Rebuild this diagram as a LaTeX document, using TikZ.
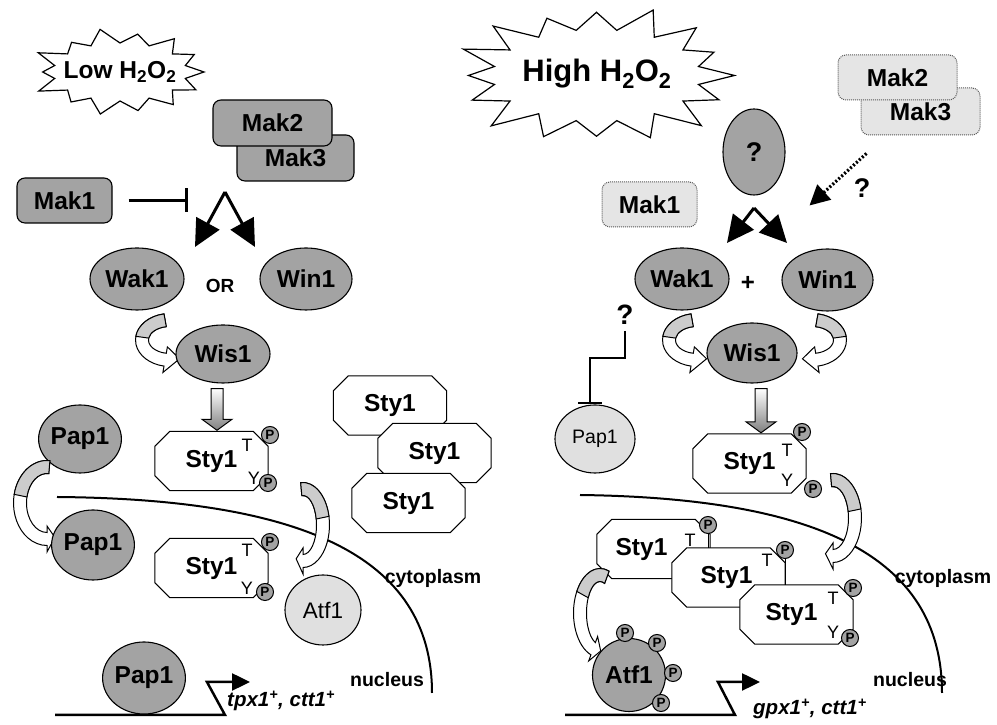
\documentclass[tikz,border=0pt]{standalone}
\usepackage{fontspec}
\setmainfont{Liberation Sans}
\usetikzlibrary{shapes.geometric,arrows.meta,calc}

\definecolor{protgray}{gray}{0.64}
\definecolor{palegray}{gray}{0.88}
\definecolor{ghostgray}{gray}{0.9}
\definecolor{bentgray}{gray}{0.8}

\tikzset{
  lbl/.style={font=\bfseries\fontsize{24.5}{26}\selectfont},
  prot/.style={ellipse, draw, line width=1.1pt, fill=protgray, lbl, inner sep=0pt},
  paleprot/.style={prot, fill=palegray, font=\fontsize{22.5}{24}\selectfont},
  kinbox/.style={rectangle, rounded corners=8pt, draw, line width=1.1pt, fill=protgray, lbl, minimum width=118pt, minimum height=46pt},
  ghostbox/.style={kinbox, fill=ghostgray, draw=black!65, line width=1pt, dash pattern=on 1pt off 1pt},
  stybox/.style={minimum width=113pt, minimum height=59pt, inner sep=0pt},
  octline/.style={draw, fill=white, line width=1pt},
  phos/.style={circle, draw, line width=1pt, fill=protgray, minimum size=17pt, inner sep=0pt, font=\bfseries\fontsize{13.5}{13.5}\selectfont},
  site/.style={font=\fontsize{18}{18}\selectfont, inner sep=0pt},
  burstline/.style={draw, line width=1.2pt, fill=white, line join=miter},
  fork/.style={line width=3pt, -{Triangle[length=27pt,width=26pt]}},
  dotarrow/.style={line width=3.2pt, dash pattern=on 2pt off 2pt, -{Triangle[length=20pt,width=20pt]}},
  inhibit/.style={line width=2.5pt, -{Bar[width=24pt,line width=2.5pt]}},
  membrane/.style={line width=2pt},
  dna/.style={line width=2.5pt, -{Triangle[length=18pt,width=17pt]}},
  gene/.style={font=\bfseries\itshape\fontsize{20.5}{22}\selectfont, anchor=base west, inner sep=0pt},
  compart/.style={font=\bfseries\fontsize{19.5}{21}\selectfont},
  bentline/.style={draw, line width=1pt},
  blockarr/.style={draw, line width=1pt, top color=white, bottom color=black!50},
}

\newcommand\bandw{6.5}
\newcommand\headw{13}
\newcommand\stycut{15}

% star outline: centre, points, outer xr, outer yr, inner xr, inner yr, jitter
\newcommand\burst[7]{%
  \pgfmathtruncatemacro\burstlast{2*#2-1}
  \draw[burstline, shift={(#1)}] (xyz polar cs:angle=0, x radius=#3, y radius=#4)
    \foreach \k in {1,...,\burstlast} {
      -- (xyz polar cs:angle={\k*180/#2},
           x radius={ifthenelse(isodd(\k),#5,#3*(1+0.08*sin(\k*#7)))},
           y radius={ifthenelse(isodd(\k),#6,#4*(1+0.08*sin(\k*#7)))})
    } -- cycle;}

% curved ribbon arrow: centre, start angle, end angle, tip angle, x radius, y radius
\newcommand\bentarrow[6]{%
  \begin{scope}[shift={(#1)}]
    \pgfmathsetmacro\bendmid{#2+0.45*(#3-#2)}
    \draw[bentline, fill=white]
      (xyz polar cs:angle=#2, x radius=#5+\bandw, y radius=#6+\bandw)
      arc[start angle=#2, end angle=#3, x radius=#5+\bandw, y radius=#6+\bandw]
      -- (xyz polar cs:angle=#3, x radius=#5+\headw, y radius=#6+\headw)
      -- (xyz polar cs:angle=#4, x radius=#5, y radius=#6)
      -- (xyz polar cs:angle=#3, x radius=#5-\headw, y radius=#6-\headw)
      -- (xyz polar cs:angle=#3, x radius=#5-\bandw, y radius=#6-\bandw)
      arc[start angle=#3, end angle=#2, x radius=#5-\bandw, y radius=#6-\bandw] -- cycle;
    \draw[bentline, fill=bentgray]
      (xyz polar cs:angle=#2, x radius=#5+\bandw, y radius=#6+\bandw)
      arc[start angle=#2, end angle=\bendmid, x radius=#5+\bandw, y radius=#6+\bandw]
      -- (xyz polar cs:angle=\bendmid, x radius=#5-\bandw, y radius=#6-\bandw)
      arc[start angle=\bendmid, end angle=#2, x radius=#5-\bandw, y radius=#6-\bandw] -- cycle;
  \end{scope}}

% Sty1 octagon: name, position, label shift
\newcommand\styprot[3]{%
  \node[stybox] (#1) at (#2) {};
  \draw[octline] ($(#1.north west)+(\stycut,0)$) -- ($(#1.north east)+(-\stycut,0)$)
    -- ($(#1.north east)+(0,-\stycut)$) -- ($(#1.south east)+(0,\stycut)$)
    -- ($(#1.south east)+(-\stycut,0)$) -- ($(#1.south west)+(\stycut,0)$)
    -- ($(#1.south west)+(0,\stycut)$) -- ($(#1.north west)+(0,-\stycut)$) -- cycle;
  \node[lbl] at ([xshift=#3]#1.center) {Sty1};}

% shaded block arrow: from, to, x offset
\newcommand\downblock[3]{%
  \path[blockarr] let \p1=(#1.south), \p2=([xshift=#3]#2.north) in
    (\x2-6,\y1-5) -- (\x2-6,\y2+12) -- (\x2-15,\y2+12) -- (\x2,\y2+1)
    -- (\x2+15,\y2+12) -- (\x2+6,\y2+12) -- (\x2+6,\y1-5) -- cycle;}

\begin{document}
\begin{tikzpicture}[x=1pt,y=1pt]
\useasboundingbox (0,0) rectangle (997,725);

% ---------------- low H2O2 ----------------
\burst{120,653}{14}{84}{41}{67}{29}{97}
\node[lbl] (lowB) at (120,653) {Low H\textsubscript{2}O\textsubscript{2}};

\node[kinbox, minimum width=117pt] (makLc) at (295.5,567) {Mak3};
\node[kinbox, minimum width=119pt] (makLb) at (272.5,602) {Mak2};
\node[kinbox, minimum width=95pt, minimum height=45pt] (makLa) at (64.5,524.5) {Mak1};
\draw[inhibit] ([xshift=16pt]makLa.east) -- ++(59,0);

\coordinate (forkL) at (225,533);
\draw[fork] (forkL) -- ++(-30,-55);
\draw[fork] (forkL) -- ++(30,-55);

\node[prot, minimum width=94pt, minimum height=62pt] (wakL) at (137,446) {Wak1};
\node[prot, minimum width=92pt, minimum height=62pt] (winL) at (306,446) {Win1};
\node[font=\bfseries\fontsize{19}{20}\selectfont] (orL) at (220,439) {OR};
\bentarrow{170,385}{100}{260}{290}{28}{20}
\node[prot, minimum width=94pt, minimum height=58pt] (wisL) at (223,371) {Wis1};

\styprot{styLa}{211.5,264}{0pt}
\downblock{wisL}{styLa}{5.5pt}
\node[phos] (pLa1) at (270,290) {P};
\node[phos] (pLa2) at (268,242) {P};
\node[site] at (247,280) {T};
\node[site] at (254,247) {Y};

\styprot{styS1}{390,319.5}{0pt}
\styprot{styS2}{434.5,272}{0pt}
\styprot{styS3}{408.5,222}{0pt}

\draw[membrane] (57,228) .. controls (300,226) and (432,170) .. (432,32);
\node[compart] (cytoL) at (433,147) {cytoplasm};
\node[compart] (nucL) at (387,45) {nucleus};

\node[prot, minimum width=80pt, minimum height=68pt] (papLa) at (80,286) {Pap1};
\bentarrow{47,222}{85}{270}{287}{27}{36}
\node[prot, minimum width=80pt, minimum height=70pt] (papLb) at (93,180) {Pap1};

\styprot{styLb}{211.5,157}{0pt}
\node[phos] (pLb1) at (270,183) {P};
\node[phos] (pLb2) at (265,133) {P};
\node[site] at (247,175) {T};
\node[site] at (247,137) {Y};

\bentarrow{303,200}{95}{-90}{-110}{20}{36}
\node[paleprot, minimum width=76pt, minimum height=70pt] (atfL) at (323,115) {Atf1};

\draw[dna] (55,10) -- (225,10) -- (207,43) -- (250,43);
\node[prot, minimum width=78pt, minimum height=72pt] (papLc) at (144,47) {Pap1};
\node[gene] (geneL) at (227,18) {tpx1\textsuperscript{+}, ctt1\textsuperscript{+}};

% ---------------- high H2O2 ----------------
\burst{596.5,649.5}{16}{138}{66}{104}{46}{131}
\node[lbl, font=\bfseries\fontsize{31}{33}\selectfont] (highB) at (597,651) {High H\textsubscript{2}O\textsubscript{2}};

\node[ghostbox, minimum width=119pt, minimum height=47pt] (makRc) at (920.5,613.5) {Mak3};
\node[ghostbox, minimum width=119pt, minimum height=45pt] (makRb) at (897.5,647.5) {Mak2};
\node[ghostbox, minimum width=95pt, minimum height=45pt] (makRa) at (649.5,520.5) {Mak1};
\node[prot, minimum width=62pt, minimum height=86pt, font=\bfseries\fontsize{27}{29}\selectfont] (qR) at (754,573) {?};
\draw[dotarrow] ([xshift=6pt,yshift=-18pt]makRc.south west) -- ++(-57,-52);
\node[font=\bfseries\fontsize{27}{29}\selectfont] (qDot) at (862,537) {?};

\coordinate (forkR) at (754,517);
\draw[fork] (forkR) -- ++(-27,-35);
\draw[fork] (forkR) -- ++(33,-35);

\node[prot, minimum width=94pt, minimum height=62pt] (wakR) at (682,446) {Wak1};
\node[prot, minimum width=91pt, minimum height=62pt] (winR) at (827.5,445) {Win1};
\node[font=\bfseries\fontsize{24}{24}\selectfont] (plusR) at (748,442) {+};
\bentarrow{697,385}{100}{260}{290}{28}{20}
\bentarrow{812,385}{80}{-80}{-110}{28}{20}
\node[prot, minimum width=90pt, minimum height=60pt] (wisR) at (752,372) {Wis1};

\node[font=\bfseries\fontsize{28}{30}\selectfont, inner sep=0pt] (qInh) at (625,410) {?};
\node[paleprot, minimum width=80pt, minimum height=68pt, font=\fontsize{19.5}{21}\selectfont] (papRa) at (595,286) {Pap1};
\draw[inhibit] ([yshift=-6pt]qInh.south) -- ++(0,-27) -| ([xshift=-5pt]papRa.north);

\styprot{styRa}{749.5,261.5}{0pt}
\downblock{wisR}{styRa}{11.5pt}
\node[phos] (pRa1) at (802,293) {P};
\node[phos] (pRa2) at (813,236) {P};
\node[site] at (787,275) {T};
\node[site] at (787,245) {Y};

\draw[membrane] (580,230) .. controls (815,227) and (942,170) .. (942,32);
\bentarrow{833,207}{95}{-90}{-110}{22}{38}

\styprot{styRb1}{653.5,176}{-12pt}
\styprot{styRb2}{728.5,147.5}{-2pt}
\node[phos] (pRb1) at (708,200) {P};
\draw[line width=1pt] (pRb1.south) -- (pRb1.south |- styRb2.north);
\node[site] at (690,185) {T};
\styprot{styRb3}{796.5,110.5}{-5pt}
\node[phos] (pRb2) at (785,175) {P};
\draw[line width=1pt] (pRb2.south) -- (pRb2.south |- styRb3.north);
\node[site] at (767,165) {T};
\node[phos] (pRb3) at (853,137) {P};
\node[phos] (pRb4) at (850,87) {P};
\node[site] at (833,127) {T};
\node[site] at (833,93) {Y};

\node[compart] (cytoR) at (943,147) {cytoplasm};
\node[compart] (nucR) at (910,45) {nucleus};

\draw[dna] (565,10) -- (735,10) -- (718,43) -- (760,43);
\bentarrow{600,112}{70}{250}{272}{20}{38}
\node[prot, circle, minimum size=73pt] (atfR) at (629,50) {Atf1};
\node[phos] (pAt1) at (625,92) {P};
\node[phos] (pAt2) at (657,82) {P};
\node[phos] (pAt3) at (673,52) {P};
\node[phos] (pAt4) at (661,22) {P};
\node[gene] (geneR) at (753,10) {gpx1\textsuperscript{+}, ctt1\textsuperscript{+}};
\end{tikzpicture}
\end{document}
